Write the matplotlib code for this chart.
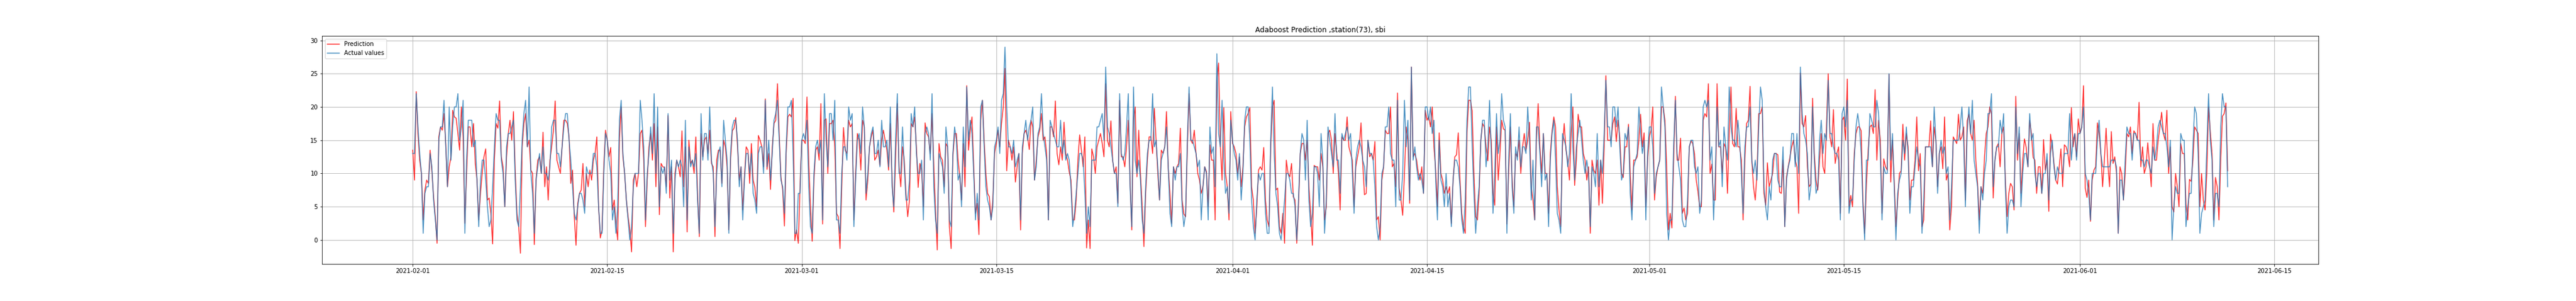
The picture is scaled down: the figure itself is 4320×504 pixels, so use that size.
import matplotlib
matplotlib.use("Agg")
import matplotlib.dates as mdates
import matplotlib.pyplot as plt
import pandas as pd

# Readings every 3 hours, starting 2021-02-01 00:00 (one row per day)
start_time = "2021-02-01 00:00"
step = "3h"

actual_values = [
    # Feb
    13, 13, 22, 17, 13, 10, 1, 7,
    8, 8, 13, 11, 6, 3, 0, 15,
    17, 17, 21, 14, 8, 20, 12, 17,
    20, 20, 22, 15, 17, 21, 1, 12,
    18, 18, 18, 14, 15, 9, 2, 9,
    12, 12, 9, 5, 2, 3, 8, 14,
    19, 18, 18, 12, 10, 5, 14, 16,
    16, 17, 18, 9, 3, 2, 8, 15,
    19, 21, 14, 23, 10, 7, 1, 9,
    11, 13, 10, 14, 10, 10, 9, 11,
    17, 18, 18, 13, 13, 11, 14, 17,
    19, 19, 15, 12, 8, 4, 3, 5,
    7, 7, 6, 4, 11, 10, 10, 10,
    13, 13, 11, 5, 1, 1, 10, 16,
    15, 12, 10, 3, 5, 1, 5, 18,
    21, 13, 10, 6, 3, 0, 2, 8,
    10, 10, 10, 21, 18, 14, 3, 10,
    13, 17, 13, 22, 10, 20, 5, 11,
    10, 11, 7, 19, 9, 12, 1, 9,
    12, 11, 12, 11, 5, 18, 3, 14,
    11, 12, 11, 13, 6, 1, 19, 12,
    16, 16, 12, 20, 12, 10, 2, 10,
    13, 14, 8, 18, 15, 12, 1, 13,
    17, 18, 18, 15, 8, 11, 3, 9,
    13, 13, 10, 13, 7, 6, 4, 13,
    14, 14, 10, 21, 11, 15, 9, 13,
    18, 19, 21, 15, 9, 8, 4, 14,
    20, 20, 21, 13, 1, 1, 7, 7,
    # Mar
    15, 16, 15, 18, 8, 2, 1, 10,
    14, 15, 13, 15, 3, 22, 15, 11,
    19, 19, 15, 21, 3, 3, 1, 10,
    14, 14, 12, 20, 18, 19, 2, 9,
    15, 16, 13, 20, 17, 7, 10, 14,
    16, 17, 13, 13, 15, 11, 18, 14,
    14, 15, 11, 20, 8, 5, 15, 22,
    10, 10, 17, 11, 6, 6, 9, 19,
    17, 20, 13, 10, 10, 12, 3, 16,
    17, 16, 12, 22, 8, 3, 1, 13,
    12, 11, 7, 17, 14, 3, 2, 13,
    17, 15, 9, 10, 5, 17, 11, 23,
    15, 18, 16, 10, 3, 7, 3, 20,
    21, 14, 8, 6, 5, 3, 5, 14,
    15, 17, 13, 21, 22, 29, 20, 14,
    14, 13, 15, 11, 12, 13, 3, 14,
    16, 18, 15, 17, 18, 20, 9, 11,
    16, 17, 22, 16, 14, 12, 3, 18,
    17, 16, 15, 14, 14, 18, 13, 15,
    12, 13, 12, 8, 2, 4, 7, 10,
    13, 13, 12, 7, 1, 5, 2, 12,
    12, 12, 17, 17, 18, 19, 15, 26,
    17, 16, 14, 12, 10, 10, 5, 22,
    13, 12, 13, 17, 22, 8, 2, 23,
    12, 10, 12, 9, 3, 1, 8, 13,
    15, 15, 22, 14, 15, 11, 6, 12,
    13, 14, 17, 11, 4, 2, 11, 9,
    11, 11, 13, 5, 2, 4, 15, 23,
    15, 15, 14, 13, 11, 12, 3, 8,
    11, 10, 3, 17, 13, 14, 8, 28,
    16, 14, 21, 12, 7, 8, 4, 18,
    # Apr
    15, 13, 12, 9, 13, 6, 10, 18,
    20, 20, 15, 6, 2, 0, 6, 10,
    9, 10, 10, 4, 1, 1, 15, 23,
    13, 7, 5, 1, 0, 3, 6, 10,
    10, 9, 7, 7, 5, 0, 6, 13,
    16, 15, 9, 18, 6, 2, 4, 11,
    11, 10, 5, 16, 12, 1, 6, 17,
    15, 13, 11, 19, 12, 12, 7, 16,
    15, 16, 17, 15, 16, 10, 4, 12,
    14, 15, 14, 12, 11, 8, 15, 13,
    13, 12, 8, 2, 0, 2, 10, 11,
    17, 17, 20, 13, 12, 12, 5, 21,
    6, 6, 10, 21, 14, 18, 6, 26,
    12, 14, 11, 9, 10, 9, 7, 20,
    20, 18, 20, 16, 18, 9, 3, 15,
    9, 8, 5, 10, 5, 7, 2, 9,
    12, 12, 11, 8, 3, 1, 6, 18,
    23, 23, 14, 7, 1, 5, 8, 15,
    18, 18, 11, 14, 21, 13, 4, 10,
    19, 13, 15, 22, 18, 17, 1, 12,
    19, 8, 4, 14, 12, 17, 11, 14,
    14, 13, 20, 15, 6, 12, 3, 17,
    17, 13, 8, 16, 9, 10, 2, 12,
    16, 18, 12, 4, 3, 1, 16, 15,
    14, 11, 13, 22, 14, 9, 14, 16,
    18, 15, 12, 10, 12, 10, 2, 11,
    10, 8, 16, 8, 12, 10, 16, 24,
    17, 17, 14, 20, 20, 17, 20, 14,
    9, 10, 16, 15, 17, 7, 3, 11,
    12, 13, 20, 16, 13, 15, 3, 13,
    # May
    17, 17, 14, 7, 10, 11, 12, 23,
    20, 17, 4, 0, 3, 3, 14, 21,
    13, 11, 9, 3, 2, 2, 6, 14,
    15, 15, 11, 10, 11, 4, 6, 20,
    21, 20, 21, 12, 14, 3, 10, 20,
    14, 15, 8, 17, 14, 12, 23, 17,
    15, 15, 14, 18, 15, 10, 4, 14,
    17, 17, 20, 12, 10, 12, 9, 17,
    23, 21, 8, 5, 3, 8, 6, 12,
    13, 13, 9, 8, 8, 14, 2, 9,
    11, 12, 16, 16, 11, 16, 10, 26,
    19, 16, 15, 13, 6, 8, 20, 12,
    7, 8, 15, 18, 13, 16, 15, 24,
    16, 16, 14, 13, 13, 12, 3, 19,
    20, 17, 21, 4, 6, 6, 12, 17,
    19, 17, 13, 5, 0, 12, 12, 19,
    18, 17, 17, 21, 19, 13, 3, 11,
    10, 10, 25, 12, 16, 8, 0, 7,
    9, 10, 15, 13, 17, 13, 4, 8,
    8, 11, 14, 12, 11, 1, 6, 14,
    14, 14, 14, 11, 20, 15, 7, 13,
    15, 13, 14, 10, 11, 3, 8, 15,
    15, 15, 15, 17, 20, 15, 5, 16,
    20, 16, 21, 12, 10, 8, 1, 8,
    6, 10, 12, 19, 19, 22, 8, 12,
    14, 14, 18, 16, 19, 8, 1, 5,
    6, 6, 5, 20, 13, 17, 5, 10,
    13, 13, 11, 19, 15, 16, 10, 8,
    10, 10, 7, 10, 10, 13, 6, 13,
    15, 11, 9, 11, 10, 10, 10, 13,
    13, 13, 19, 12, 15, 16, 12, 16,
    # Jun
    16, 17, 20, 10, 9, 7, 3, 10,
    10, 10, 15, 18, 13, 11, 11, 11,
    11, 11, 12, 12, 12, 11, 1, 9,
    9, 6, 12, 17, 16, 16, 12, 16,
    16, 15, 15, 12, 12, 11, 12, 12,
    11, 10, 14, 12, 14, 17, 18, 17,
    16, 16, 14, 11, 15, 0, 5, 8,
    7, 7, 16, 15, 15, 2, 5, 7,
    7, 14, 20, 19, 13, 1, 4, 5,
    6, 14, 22, 15, 12, 2, 7, 7,
    5, 17, 22, 20, 20, 8,
]

predicted_values = [
    # Feb
    13.5, 9, 22.3, 16, 12, 10, 3, 7.5,
    9, 8.5, 13.5, 10.5, 6.5, 3.5, -0.5, 15.5,
    17, 16.5, 19, 14.5, 8, 11, 12.5, 19.5,
    18.5, 18.3, 16, 13.5, 20, 15.5, 2.5, 10,
    17, 17, 14, 17.5, 11.5, 9, 3, 7,
    10, 12.5, 13.7, 6, 6.3, 4, -0.6, 12,
    17.5, 16.8, 20.9, 12.5, 11, 5, 12.5, 16,
    18, 15, 19.3, 10.5, 4, 2, -2.0, 14,
    17.5, 19, 14, 15, 10.5, 10, -0.7, 9,
    12, 12.5, 10, 16.2, 8, 11, 6, 12,
    14, 16.5, 20.9, 12, 11, 10, 14, 18,
    18, 17.5, 15.5, 8.5, 10.5, 3.5, -0.8, 5.5,
    7, 7.5, 11.5, 5, 10, 8, 10.5, 9,
    12, 13, 15.5, 5, 0.3, 1.5, 11, 16.5,
    15, 12.5, 13.9, 4.5, 6, 2.5, 0, 15,
    20, 12.5, 10, 6, 3.5, 1.5, -1.8, 9,
    10, 8, 10, 16, 16.5, 12, 2, 9,
    14, 16, 12, 17.5, 8, 17, 3.8, 11.5,
    11, 10.9, 8, 18.7, 6.3, 11, -1.8, 10,
    12, 11, 9.5, 16.4, 8, 14, 1.2, 15,
    11.5, 12, 10, 15.5, 7, 0.5, 16, 12.5,
    15, 15.5, 13, 16.5, 11.5, 11, 0.5, 12,
    13.5, 13.5, 8.5, 15, 14, 11, 1.5, 12,
    16.4, 16.8, 18.4, 14, 9, 11, 4.5, 9.5,
    14, 13.5, 8.5, 14.5, 9, 7.9, 5, 15.7,
    15, 14, 11, 21.2, 10.6, 13, 7.6, 14,
    17.5, 18, 23.5, 16, 9.5, 7.5, 2.1, 13,
    18.5, 18.9, 18.5, 21.3, -0.1, 1.5, -0.5, 8,
    # Mar
    15, 15, 14.5, 21.5, 11.8, 5, -0.2, 9,
    13.5, 14, 12, 20.5, 2.4, 18, 18.2, 10,
    17.5, 17.5, 18, 14, 4, 3.5, -1.3, 8,
    16.9, 13.5, 13, 18, 17, 17.5, 3, 10,
    16, 15, 10.5, 18, 17, 6, 9, 14,
    15.5, 16.5, 12, 12.5, 13.5, 11.2, 15, 16.5,
    15, 13.5, 10.5, 17.5, 9, 4.2, 12, 20.5,
    11, 8, 14, 12, 7, 3.5, 6, 17.5,
    17, 18.5, 14, 7.9, 11.5, 10.5, 5, 17.6,
    16, 15.5, 13, 19, 11.3, 4.5, -1.5, 14.5,
    12.5, 12, 8, 14.5, 14, 2, -1.3, 12.5,
    16, 16, 12, 9.5, 6, 14.5, 8, 23.2,
    13.5, 16.5, 18.5, 11, 4, 5.5, 0.8, 18,
    21, 15, 10, 7, 6.5, 3, 6, 13,
    14.5, 16.5, 14, 17.5, 20, 25.8, 10.4, 15,
    14, 12, 14, 8.7, 11, 13, 1.5, 13,
    16, 16.5, 15.5, 13.6, 18, 17, 9, 12,
    15.5, 16.5, 19, 15, 15.5, 13, 3, 17,
    17, 15.5, 20.9, 13, 11.3, 14, 12, 17.7,
    13, 12, 10.2, 9, 3, 3, 6, 12,
    15.8, 13.5, 11, 15.5, -1.2, 3, -1.3, 13.7,
    12.5, 10, 14, 15, 16, 14.5, 12.5, 23.5,
    15, 14, 17.9, 12, 10, 11, 5.5, 21,
    12.5, 12.5, 11, 14, 18, 9, 1.5, 18,
    20, 9.5, 16.5, 10, 5, -1, 7, 12,
    15.5, 15.5, 13, 19.8, 15, 10, 6, 13.5,
    13, 14, 19.3, 10.9, 7, 2.5, 11, 10,
    11, 11.5, 16.8, 6, 3.9, 3.5, 14, 22,
    15, 14.5, 16.5, 13, 10, 9, 7, 8,
    11, 10.3, 5, 14.3, 12, 12, 3, 24,
    26.6, 14, 9, 19.9, 10, 8, 3, 19.3,
    # Apr
    14.5, 14, 13, 10, 12.5, 8, 11, 17,
    18.5, 19, 19.9, 8, 6, 1, 5, 10.5,
    11, 10.5, 13.9, 6, 3, 2, 14, 20,
    21, 7.5, 7.8, 2, 1, 4, -0.5, 12,
    10, 9.5, 11.5, 6.5, 6, -0.5, 5, 13,
    14.5, 14.5, 12, 15, 8, 4, -0.8, 11.2,
    11, 11, 9, 13, 11, 3, 5, 16,
    16.5, 15, 10, 16, 13, 10, 4.5, 15.5,
    15, 15, 18.5, 14, 13, 12, 5, 11,
    12.5, 14, 17.6, 11.5, 6.8, 7, 15, 12.5,
    13, 12, 14.8, 3, 3.5, 0, 9, 11,
    16.5, 16, 16, 20, 11, 11.5, 8, 22.1,
    7.8, 6, 3.7, 10, 17, 15, 5.5, 26,
    12.5, 13, 12, 10, 9, 11, 7, 19.5,
    18, 18.5, 17, 20, 14, 10.5, 5, 16.1,
    10, 9, 7, 8, 7, 8, 2.5, 9,
    12.5, 12.8, 16.1, 9, 4, 2, 1, 16,
    21, 21, 19.4, 10, 3.5, 3, 7, 15,
    17.5, 17, 14, 11.9, 17, 15, 7, 5.2,
    17, 9, 13, 18, 16.7, 16.5, 2.4, 10,
    17, 9, 5, 13, 12.5, 15, 10, 14,
    16, 13.5, 15, 17.7, 8, 6, 3, 15,
    20.5, 14, 10, 16, 10, 10, 4, 13,
    16.4, 18.5, 17, 8, 4.5, 2, 14, 17.5,
    13.5, 12, 9, 16, 20, 8.2, 12, 18.9,
    17, 17, 13, 12, 9, 11, 1, 12,
    10.5, 10, 12, 5.2, 12, 5.5, 14, 24.7,
    15, 15, 15, 17.5, 18.5, 14.8, 18, 15.4,
    10, 9.4, 14, 14, 17.4, 10, 4.5, 12,
    12, 12.5, 15, 18.9, 14, 16.1, 5, 12,
    # May
    15.5, 16.5, 20, 6, 9.5, 11, 12, 20,
    20, 18, 11, 1.5, 4, 1.8, 12, 21.6,
    12, 12, 15.3, 4, 4.8, 3, 4, 14,
    14.9, 14.5, 13, 9, 7.3, 5, 5, 18,
    19, 18.5, 23.5, 10, 11.4, 6, 6, 23.5,
    14, 14, 10, 14.5, 13.9, 7, 16, 23,
    14.5, 14, 19.8, 14, 14, 12, 3, 12,
    17.5, 18, 23.1, 12, 8, 6, 10, 19,
    19, 20, 7, 5.2, 11.6, 8, 9, 10,
    13, 13, 12.8, 7.2, 7, 12, 2, 9.5,
    11, 12.5, 14, 15, 12, 11, 4, 25.1,
    17.5, 17, 18.7, 11, 8, 8.4, 21.3, 13,
    9, 7.5, 12, 16, 11, 10, 17, 25,
    15.5, 14, 19.6, 11.5, 13, 14, 4, 18,
    18.5, 15, 24.2, 5, 6.7, 5, 13, 16,
    17, 17, 16.4, 6, 1, 8.4, 13.4, 17,
    17.3, 16, 22.6, 12, 18, 15, 4, 12.2,
    11, 10.5, 24.9, 8.7, 15, 9, 2, 6,
    10, 10.4, 17.4, 12, 16, 14, 6, 9,
    9, 12, 18.5, 10.4, 13, 2, 3, 14,
    14, 14, 17.9, 11, 17, 15, 8, 13,
    14, 10.7, 18.5, 9, 10, 1.5, 5, 15.5,
    15, 14.5, 18.9, 15, 15.5, 17, 6, 17.9,
    18.9, 16, 15, 18, 12, 8.5, 3, 8,
    7, 12.5, 16, 17, 20, 19, 6.3, 12,
    14, 14.5, 11, 16, 17, 9, 3.5, 7,
    8.5, 8, 4.5, 21.6, 12, 16, 7, 12,
    15.2, 13.9, 11, 18, 16, 12.4, 12, 7,
    11, 11, 7, 15.1, 10.5, 12, 4.3, 15.9,
    14, 11.5, 9, 8.4, 11, 13.7, 8, 14.3,
    14, 13, 11, 19.9, 14, 16, 12.5, 18.2,
    # Jun
    16, 17, 23.2, 7.8, 6.4, 9, 2.8, 9,
    10.5, 11, 17.6, 16, 13, 8, 12, 16.8,
    11.5, 8, 16.3, 11.5, 12.5, 10, 1, 11,
    10, 6, 10, 16, 15.5, 17, 13, 16.4,
    16, 15, 20.7, 11, 14, 10, 11, 14.6,
    11.5, 8, 17.5, 12, 12, 15, 17, 19.2,
    16, 15, 19.5, 10, 14, 5, 4.2, 10,
    8, 5, 14.5, 13, 13, 5.4, 3, 9.1,
    8.8, 12, 17, 16.5, 16, 5, 10, 6,
    4.5, 10, 20, 16.3, 13, 3, 9.4, 8,
    3, 12, 18.6, 19, 20.6, 10.4,
]

title = "Adaboost Prediction ,station(73), sbi"

assert len(actual_values) == len(predicted_values)
times = pd.date_range(start_time, periods=len(actual_values), freq=step)

fig = plt.figure(figsize=(60, 7), dpi=72)
ax = fig.add_subplot(1, 1, 1)
fig.subplots_adjust(left=0.125, right=0.9, top=0.88, bottom=0.124)

ax.plot(times, predicted_values, color="red", alpha=0.8, label="Prediction")
ax.plot(times, actual_values, color="tab:blue", alpha=0.8, label="Actual values")

ax.set_title(title)
ax.legend(loc="upper left")
ax.grid()
ax.set_ylim(-3.57, 30.65)
ax.xaxis.set_major_locator(mdates.DayLocator(bymonthday=[1, 15]))
ax.xaxis.set_major_formatter(mdates.DateFormatter("%Y-%m-%d"))

plt.savefig("out.png", dpi=72)
plt.close()
